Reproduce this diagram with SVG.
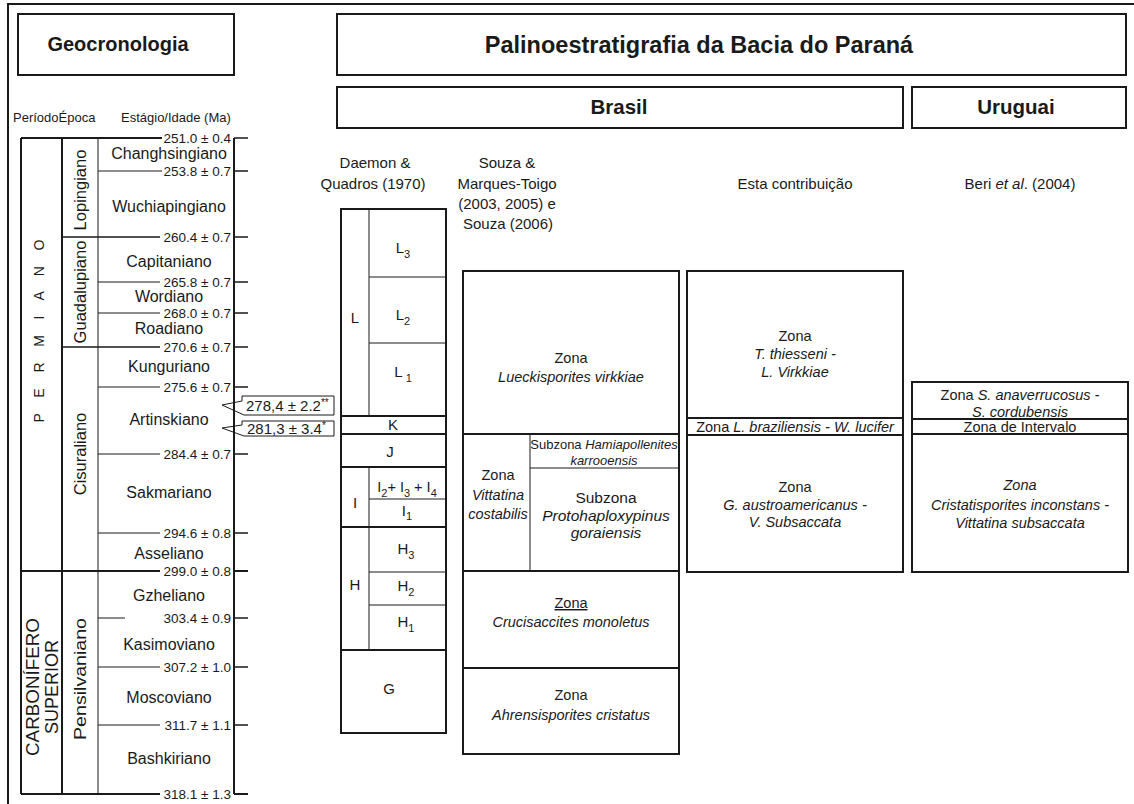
<svg xmlns="http://www.w3.org/2000/svg" width="1134" height="804" viewBox="0 0 1134 804">
<style>
text{font-family:"Liberation Sans",Arial,sans-serif;fill:#1a1a1a}
.b{font-weight:bold}
.it{font-style:italic}
.m{text-anchor:middle}
.e{text-anchor:end}
.box{fill:none;stroke:#1a1a1a;stroke-width:2}
.tk{fill:none;stroke:#1a1a1a;stroke-width:2}
.tm{fill:none;stroke:#1a1a1a;stroke-width:1.5}
.tn{fill:none;stroke:#1a1a1a;stroke-width:1}
.hd{font-size:15px}
.z{font-size:14.5px}
.st{font-size:16px}
.dt{font-size:13.5px}
.ep{font-size:16.5px}
.dm{font-size:15px}
.sb{font-size:11px}
</style>
<rect width="1134" height="804" fill="#fff"/>
<path class="tk" d="M8 804V4H1134"/>

<g id="titles">
  <g id="title-geocronologia">
    <rect class="box" x="18" y="14" width="216" height="61"/>
    <text class="b m" x="118" y="51" font-size="20">Geocronologia</text>
  </g>
  <g id="title-palino">
    <rect class="box" x="337" y="14" width="789" height="61"/>
    <text class="b m" x="699" y="53" font-size="23.5">Palinoestratigrafia da Bacia do Paraná</text>
  </g>
  <g id="title-brasil">
    <rect class="box" x="337" y="87" width="566" height="41"/>
    <text class="b m" x="619" y="114" font-size="20.5">Brasil</text>
  </g>
  <g id="title-uruguai">
    <rect class="box" x="912" y="87" width="214" height="41"/>
    <text class="b m" x="1016" y="114" font-size="20.5">Uruguai</text>
  </g>
</g>

<g id="geocronologia-table">
  <text x="13" y="122" font-size="13">PeríodoÉpoca</text>
  <text x="121" y="122" font-size="13">Estágio/Idade (Ma)</text>
  <path class="tk" d="M21 138V794M62 138V794M234 138V794"/>
  <path class="tn" d="M98 138V794"/>
  <path class="tk" d="M21 138H162M21 571H160M21 794H160"/>
  <path class="tm" d="M62 237H160M62 347H160"/>
  <path class="tn" d="M98 171H162M98 282H160M98 313H160M98 387H160M98 454H160M98 533H160M98 618H125M98 667H160M98 725H160"/>
  <path class="tm" d="M234 138H248M234 171H248M234 237H248M234 282H248M234 313H248M234 347H248M234 387H248M234 454H248M234 533H248M234 618H248M234 667H248M234 725H248"/>
  <path class="tk" d="M234 571H248M234 794H248"/>
  <g class="dt e">
    <text x="231" y="143">251.0 ± 0.4</text>
    <text x="231" y="176">253.8 ± 0.7</text>
    <text x="231" y="242">260.4  ± 0.7</text>
    <text x="231" y="287">265.8  ± 0.7</text>
    <text x="231" y="318">268.0  ± 0.7</text>
    <text x="231" y="352">270.6  ± 0.7</text>
    <text x="231" y="392">275.6  ± 0.7</text>
    <text x="231" y="459">284.4  ± 0.7</text>
    <text x="231" y="538">294.6  ± 0.8</text>
    <text x="231" y="576">299.0  ± 0.8</text>
    <text x="231" y="623">303.4  ± 0.9</text>
    <text x="231" y="672">307.2  ± 1.0</text>
    <text x="231" y="730">311.7  ± 1.1</text>
    <text x="231" y="799">318.1  ± 1.3</text>
  </g>
  <g class="st m">
    <text x="169" y="159">Changhsingiano</text>
    <text x="169" y="212">Wuchiapingiano</text>
    <text x="169" y="267">Capitaniano</text>
    <text x="169" y="302">Wordiano</text>
    <text x="169" y="334">Roadiano</text>
    <text x="169" y="372">Kunguriano</text>
    <text x="169" y="425">Artinskiano</text>
    <text x="169" y="498">Sakmariano</text>
    <text x="169" y="559">Asseliano</text>
    <text x="169" y="601">Gzheliano</text>
    <text x="169" y="650">Kasimoviano</text>
    <text x="169" y="703">Moscoviano</text>
    <text x="169" y="764">Bashkiriano</text>
  </g>
  <text class="m" transform="translate(44,331) rotate(-90)" font-size="14" textLength="183" lengthAdjust="spacing">P E R M I A N O</text>
  <text class="m" transform="translate(38.5,687) rotate(-90)" font-size="18" textLength="138" lengthAdjust="spacingAndGlyphs">CARBONÍFERO</text>
  <text class="m" transform="translate(58,687) rotate(-90)" font-size="18">SUPERIOR</text>
  <g class="ep m">
    <text transform="translate(86,190) rotate(-90)">Lopingiano</text>
    <text transform="translate(86,292) rotate(-90)">Guadalupiano</text>
    <text transform="translate(86,454) rotate(-90)">Cisuraliano</text>
    <text transform="translate(86,679) rotate(-90)" textLength="122" lengthAdjust="spacingAndGlyphs">Pensilvaniano</text>
  </g>
  <g id="callout-1">
    <path class="tn" d="M334 396H242V401L222 405L244 415H334Z" fill="#fff"/>
    <text x="246" y="411" font-size="15">278,4 ± 2.2<tspan font-size="10" dy="-5">**</tspan></text>
  </g>
  <g id="callout-2">
    <path class="tn" d="M334 421H242V425L222 428L244 436H334Z" fill="#fff"/>
    <text x="247" y="434" font-size="15">281,3 ± 3.4<tspan font-size="10" dy="-5">*</tspan></text>
  </g>
</g>

<g id="headers" class="hd m">
  <text x="375" y="168">Daemon &amp;</text>
  <text x="373" y="189">Quadros (1970)</text>
  <text x="507" y="168">Souza &amp;</text>
  <text x="507" y="189">Marques-Toigo</text>
  <text x="507" y="209">(2003, 2005) e</text>
  <text x="508" y="229">Souza (2006)</text>
  <text x="795" y="189">Esta contribuição</text>
  <text x="1020" y="189">Beri <tspan class="it">et al</tspan>. (2004)</text>
</g>

<g id="col-daemon">
  <rect class="box" x="341" y="209" width="105" height="524"/>
  <path class="tk" d="M341 416H446M341 434H446M341 467H446M341 527H446M341 650H446"/>
  <path class="tn" d="M369 209V416M369 467V650M369 277H446M369 343H446M369 499H446M369 572H446M369 605H446"/>
  <g class="dm m">
    <text x="355" y="323">L</text>
    <text x="403" y="253">L<tspan class="sb" dy="5">3</tspan></text>
    <text x="403" y="320">L<tspan class="sb" dy="5">2</tspan></text>
    <text x="403" y="377">L<tspan class="sb" dy="5"> 1</tspan></text>
    <text x="393" y="430">K</text>
    <text x="390" y="457">J</text>
    <text x="355" y="508">I</text>
    <text x="407" y="492" font-size="14.5">I<tspan class="sb" dy="5">2</tspan><tspan dy="-5">+ I</tspan><tspan class="sb" dy="5">3</tspan><tspan dy="-5"> + I</tspan><tspan class="sb" dy="5">4</tspan></text>
    <text x="407" y="516">I<tspan class="sb" dy="4">1</tspan></text>
    <text x="355" y="590">H</text>
    <text x="406" y="554">H<tspan class="sb" dy="5">3</tspan></text>
    <text x="406" y="591">H<tspan class="sb" dy="5">2</tspan></text>
    <text x="406" y="627">H<tspan class="sb" dy="5">1</tspan></text>
    <text x="389" y="694">G</text>
  </g>
</g>

<g id="col-souza">
  <rect class="box" x="463" y="271" width="216" height="483"/>
  <path class="tk" d="M463 434H679M463 571H679M463 668H679"/>
  <path class="tn" d="M530 434V571M530 468H679"/>
  <g class="z m">
    <text x="571" y="363">Zona</text>
    <text x="571" y="382" class="it">Lueckisporites virkkiae</text>
    <text x="604" y="449" font-size="13">Subzona <tspan class="it">Hamiapollenites</tspan></text>
    <text x="604" y="465" font-size="13" class="it">karrooensis</text>
    <text x="498" y="480">Zona</text>
    <text x="498" y="500" class="it">Vittatina</text>
    <text x="498" y="519" class="it">costabilis</text>
    <text x="606" y="503" font-size="15.5">Subzona</text>
    <text x="606" y="521" font-size="15.5" class="it">Protohaploxypinus</text>
    <text x="606" y="538" font-size="15.5" class="it">goraiensis</text>
    <text x="571" y="608" text-decoration="underline">Zona</text>
    <text x="571" y="627" class="it">Crucisaccites monoletus</text>
    <text x="571" y="700">Zona</text>
    <text x="571" y="720" class="it">Ahrensisporites cristatus</text>
  </g>
</g>

<g id="col-esta">
  <rect class="box" x="687" y="271" width="216" height="301"/>
  <path class="tk" d="M687 418H903M687 435H903"/>
  <g class="z m">
    <text x="795" y="341">Zona</text>
    <text x="795" y="359" class="it">T. thiesseni -</text>
    <text x="795" y="377" class="it">L. Virkkiae</text>
    <text x="795" y="432">Zona <tspan class="it">L. braziliensis -  W. lucifer</tspan></text>
    <text x="795" y="492">Zona</text>
    <text x="795" y="510" class="it">G. austroamericanus -</text>
    <text x="795" y="527" class="it">V. Subsaccata</text>
  </g>
</g>

<g id="col-beri">
  <rect class="box" x="912" y="382" width="216" height="190"/>
  <path class="tk" d="M912 419H1128M912 434H1128"/>
  <g class="z m">
    <text x="1020" y="400">Zona <tspan class="it">S. anaverrucosus -</tspan></text>
    <text x="1020" y="417" class="it">S. cordubensis</text>
    <text x="1020" y="432">Zona de Intervalo</text>
    <text x="1020" y="490" class="it">Zona</text>
    <text x="1020" y="510" class="it">Cristatisporites inconstans -</text>
    <text x="1020" y="528" class="it">Vittatina subsaccata</text>
  </g>
</g>
</svg>
